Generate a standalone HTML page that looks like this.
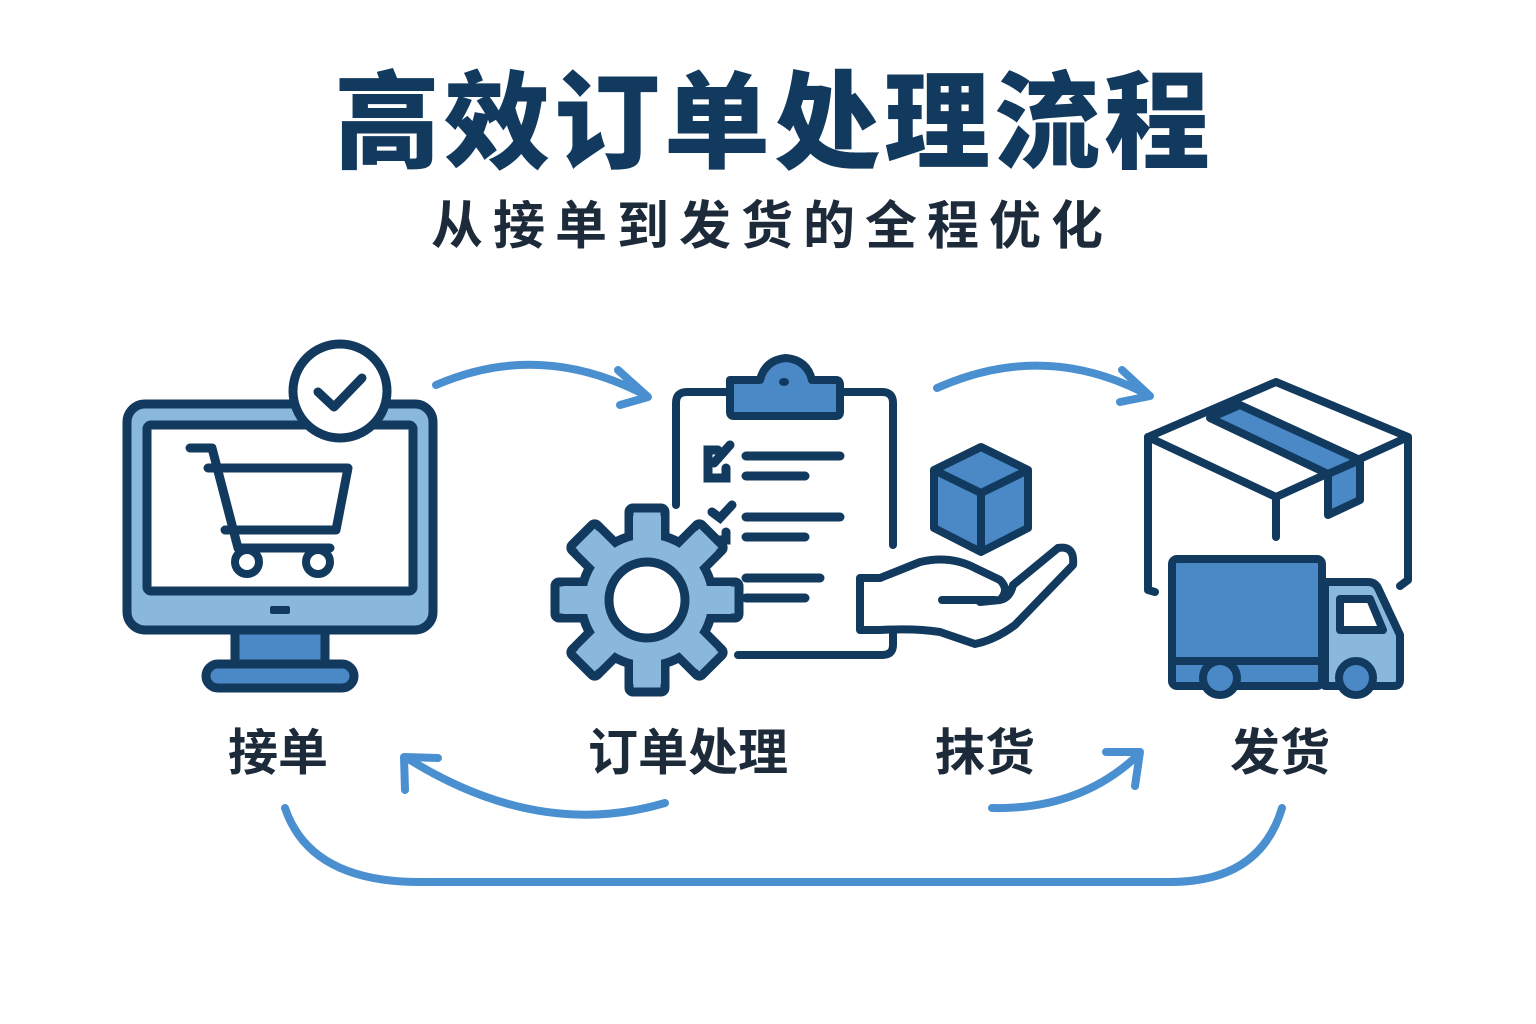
<!DOCTYPE html>
<html><head><meta charset="utf-8"><style>
body{margin:0;background:#fff;width:1536px;height:1024px;overflow:hidden}
svg{display:block}
</style></head><body>
<svg width="1536" height="1024" viewBox="0 0 1536 1024" xmlns="http://www.w3.org/2000/svg">
<defs>
<g id="tooth"><rect x="-18" y="-92" width="36" height="36" rx="4" fill="#8ab8dc" stroke="#123a5e" stroke-width="9" stroke-linejoin="round"/></g>
</defs>
<text x="774" y="160" text-anchor="middle" font-family="Liberation Sans, Noto Sans CJK SC, sans-serif" font-weight="900" font-size="106" fill="#123a5e" letter-spacing="4">高效订单处理流程</text>
<text x="772" y="244" text-anchor="middle" font-family="Liberation Sans, Noto Sans CJK SC, sans-serif" font-weight="700" font-size="52" fill="#1c2a3a" letter-spacing="10">从接单到发货的全程优化</text>

<g font-family="Liberation Sans, Noto Sans CJK SC, sans-serif" font-weight="700" font-size="50" fill="#1c2a3a" text-anchor="middle">
<text x="278" y="770">接单</text>
<text x="688" y="770">订单处理</text>
<text x="985" y="770">抹货</text>
<text x="1280" y="770">发货</text>
</g>

<!-- arrows -->
<g fill="none" stroke="#4a90d0" stroke-width="8" stroke-linecap="round" stroke-linejoin="round">
<path d="M436 385 Q540 340 645 395"/><path d="M618 370 L648 397 L620 405"/>
<path d="M937 388 Q1045 340 1148 395"/><path d="M1122 370 L1150 396 L1120 402"/>
<path d="M665 803 Q540 840 410 760"/><path d="M405 790 L404 757 L438 758"/>
<path d="M992 808 Q1080 810 1138 755"/><path d="M1106 752 L1140 752 L1135 786"/>
<path d="M285 808 Q310 882 420 882 L1170 882 Q1260 882 1282 808"/>
</g>

<!-- monitor -->
<g stroke="#123a5e" stroke-width="9" stroke-linejoin="round">
<rect x="235" y="628" width="90" height="40" fill="#4a88c6"/>
<rect x="206" y="664" width="148" height="24" rx="12" fill="#4a88c6"/>
<rect x="127" y="404" width="306" height="226" rx="18" fill="#8ab8dc"/>
<rect x="147" y="425" width="266" height="166" rx="4" fill="#fff"/>
<rect x="272" y="608" width="16" height="4" fill="#123a5e" stroke-width="4"/>
</g>
<g fill="none" stroke="#123a5e" stroke-width="9" stroke-linecap="round" stroke-linejoin="round">
<path d="M190 448 L212 448 L238 548 L330 548"/>
<path d="M208 468 L348 468 L336 530 L225 530"/>
</g>
<circle cx="247" cy="562" r="12" fill="#fff" stroke="#123a5e" stroke-width="8"/>
<circle cx="318" cy="562" r="12" fill="#fff" stroke="#123a5e" stroke-width="8"/>
<circle cx="340" cy="391" r="47" fill="#fff" stroke="#123a5e" stroke-width="9"/>
<path d="M318 392 L334 407 L362 378" fill="none" stroke="#123a5e" stroke-width="9" stroke-linecap="round" stroke-linejoin="round"/>

<!-- clipboard -->
<g fill="none" stroke="#123a5e" stroke-width="8" stroke-linecap="round" stroke-linejoin="round">
<path d="M676 505 L676 403 Q676 392 687 392 L730 392"/>
<path d="M840 392 L882 392 Q893 392 893 403 L893 545"/>
<path d="M893 620 L893 645 Q893 655 882 655 L738 655"/>
</g>
<path d="M730 380 L760 380 Q765 360 786 358 Q807 360 812 380 L836 380 Q840 380 840 385 L840 412 Q840 416 836 416 L734 416 Q730 416 730 412 Z" fill="#4a88c6" stroke="#123a5e" stroke-width="8" stroke-linejoin="round"/>
<ellipse cx="784" cy="382" rx="5" ry="4" fill="#123a5e"/>
<g stroke="#123a5e" stroke-width="9" stroke-linecap="round" fill="none">
<line x1="746" y1="456" x2="840" y2="456"/><line x1="746" y1="476" x2="805" y2="476"/>
<line x1="746" y1="517" x2="840" y2="517"/><line x1="746" y1="537" x2="805" y2="537"/>
<line x1="746" y1="578" x2="820" y2="578"/><line x1="746" y1="598" x2="805" y2="598"/>
<path d="M718 450 L708 450 L708 478 L726 478 L726 468"/><path d="M714 463 L730 445"/>
<path d="M712 512 L720 518 L732 505"/><path d="M717 540 L726 540 L726 532"/>
</g>

<!-- gear -->
<g transform="translate(647,600)">
<g id="teeth">
<use href="#tooth"/><use href="#tooth" transform="rotate(45)"/><use href="#tooth" transform="rotate(90)"/><use href="#tooth" transform="rotate(135)"/>
<use href="#tooth" transform="rotate(180)"/><use href="#tooth" transform="rotate(225)"/><use href="#tooth" transform="rotate(270)"/><use href="#tooth" transform="rotate(315)"/>
</g>
<circle r="66" fill="#8ab8dc" stroke="#123a5e" stroke-width="9"/>
<g fill="#8ab8dc">
<rect x="-14" y="-84" width="28" height="30"/><rect x="-14" y="-84" width="28" height="30" transform="rotate(45)"/><rect x="-14" y="-84" width="28" height="30" transform="rotate(90)"/><rect x="-14" y="-84" width="28" height="30" transform="rotate(135)"/>
<rect x="-14" y="-84" width="28" height="30" transform="rotate(180)"/><rect x="-14" y="-84" width="28" height="30" transform="rotate(225)"/><rect x="-14" y="-84" width="28" height="30" transform="rotate(270)"/><rect x="-14" y="-84" width="28" height="30" transform="rotate(315)"/>
</g>
<circle r="38" fill="#fff" stroke="#123a5e" stroke-width="9"/>
</g>

<!-- cube + hand -->
<g stroke="#123a5e" stroke-width="8" stroke-linejoin="round">
<path d="M981 447 L1028 470 L1028 528 L981 552 L934 528 L934 470 Z" fill="#4a88c6"/>
<path d="M934 470 L981 493 L1028 470 M981 493 L981 552" fill="none"/>
</g>
<path d="M860 578 L880 578 Q900 570 920 562 Q950 555 975 568 L1000 580 Q1010 590 1000 600 L980 602 L1000 600 Q1010 598 1013 585 L1058 548 Q1075 545 1073 565 L1015 625 Q995 640 975 644 L940 632 Q915 628 880 630 L860 630 Z" fill="#fff" stroke="#123a5e" stroke-width="8" stroke-linejoin="round"/>
<path d="M942 600 L995 600" stroke="#123a5e" stroke-width="8" stroke-linecap="round"/>

<!-- box -->
<g stroke="#123a5e" stroke-width="8" stroke-linejoin="round" stroke-linecap="round" fill="none">
<path d="M1148 437 L1276 382 L1408 437 L1276 497 Z" fill="#fff"/>
<path d="M1210 418 L1240 405 L1360 460 L1328 474 Z" fill="#4a88c6"/>
<path d="M1328 474 L1360 460 L1360 500 L1328 515 Z" fill="#4a88c6"/>
<path d="M1148 437 L1148 590 L1155 592 M1408 437 L1408 580 L1400 586 M1276 497 L1276 537"/>
</g>

<!-- truck -->
<g stroke="#123a5e" stroke-width="8" stroke-linejoin="round">
<path d="M1325 582 L1368 582 Q1375 582 1378 588 L1400 635 L1400 680 Q1400 686 1394 686 L1325 686 Z" fill="#8ab8dc"/>
<rect x="1172" y="559" width="150" height="127" rx="5" fill="#4a88c6"/>
<line x1="1172" y1="661" x2="1322" y2="661"/>
<path d="M1340 599 L1370 599 L1383 630 L1340 630 Z" fill="#fff"/>
<circle cx="1220" cy="678" r="17" fill="#4a88c6"/>
<circle cx="1356" cy="678" r="17" fill="#4a88c6"/>
</g>
</svg>
</body></html>
